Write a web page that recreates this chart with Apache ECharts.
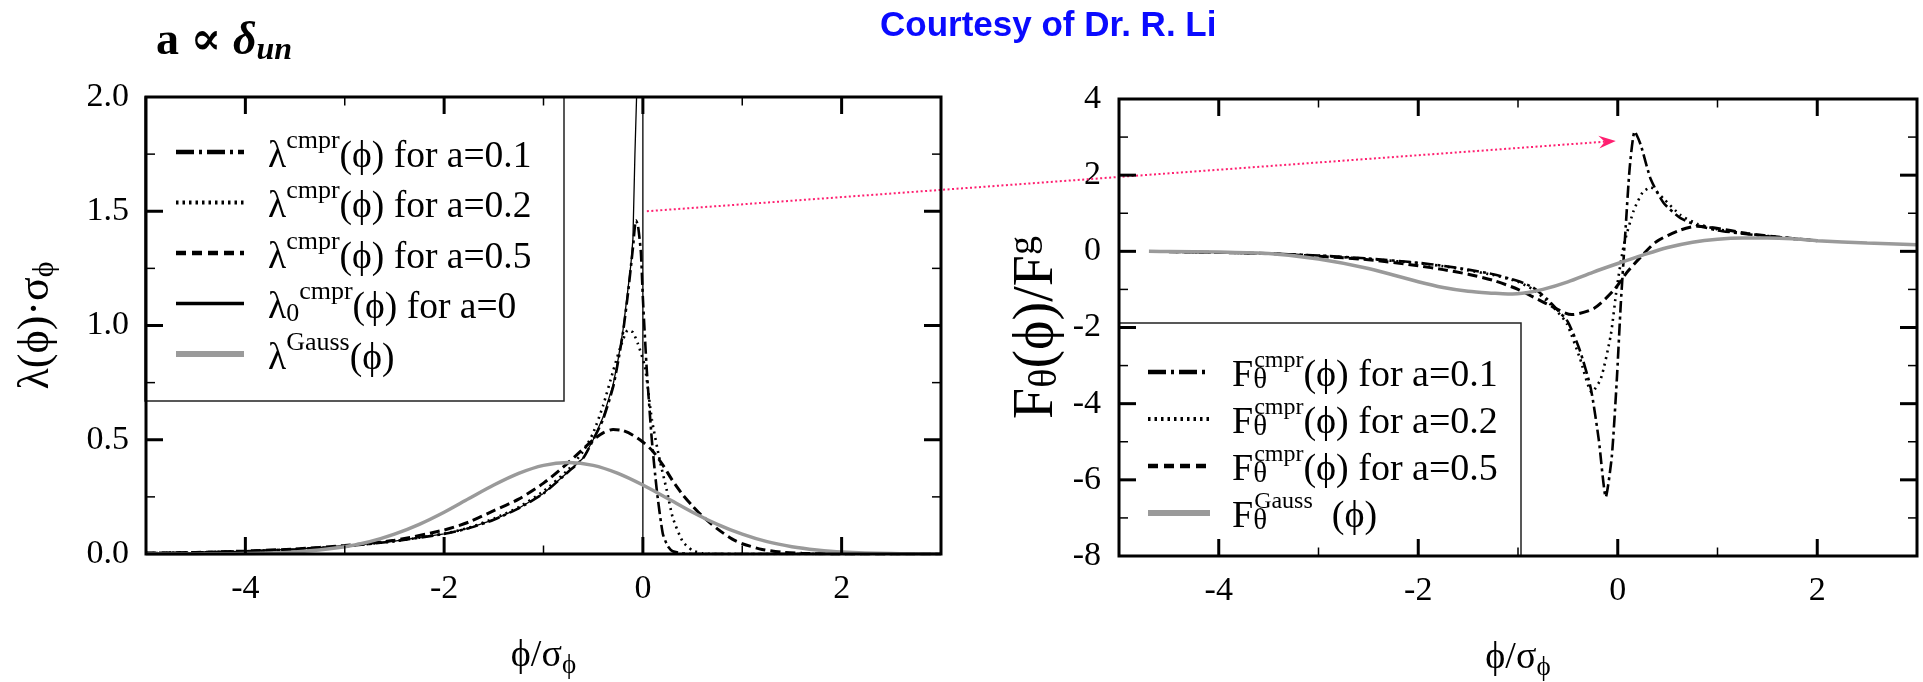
<!DOCTYPE html>
<html><head><meta charset="utf-8">
<script src="https://cdn.jsdelivr.net/npm/echarts@6/dist/echarts.min.js"></script>
<style>html,body{margin:0;padding:0;background:#fff}#c{width:1923px;height:682px}</style>
</head><body><div id="c"></div>
<script>
// ---------- data ----------
// left panel: lambda(phi)*sigma_phi
const xL01 = [-5,-4.5,-4,-3.5,-3,-2.5,-2,-1.75,-1.5,-1.25,-1,-0.75,-0.6,-0.5,-0.4,-0.3,-0.25,-0.2,-0.15,-0.1,-0.07,-0.05,-0.02,0,0.04,0.09,0.14,0.2,0.25,0.3,0.4,0.5,1,2,3];
const yL01 = [0.004,0.007,0.012,0.021,0.034,0.056,0.088,0.113,0.15,0.2,0.265,0.36,0.42,0.5,0.59,0.73,0.84,0.97,1.14,1.34,1.46,1.44,1.32,1.12,0.8,0.5,0.28,0.09,0.035,0.012,0.003,0,0,0,0];
const xL02 = [-5,-4.5,-4,-3.5,-3,-2.5,-2,-1.75,-1.5,-1.25,-1,-0.75,-0.6,-0.5,-0.4,-0.3,-0.23,-0.15,-0.1,-0.05,0.02,0.09,0.17,0.24,0.3,0.4,0.5,0.6,0.75,1,2,3];
const yL02 = [0.004,0.007,0.012,0.021,0.034,0.056,0.089,0.115,0.155,0.205,0.275,0.37,0.45,0.53,0.65,0.8,0.9,0.98,0.97,0.92,0.82,0.59,0.41,0.28,0.16,0.055,0.015,0.003,0,0,0,0];
const xL05 = [-5,-4.5,-4,-3.5,-3,-2.5,-2,-1.75,-1.5,-1.25,-1,-0.75,-0.5,-0.4,-0.3,-0.2,-0.1,0,0.1,0.2,0.3,0.4,0.5,0.6,0.75,0.9,1,1.2,1.4,1.6,2,3];
const yL05 = [0.004,0.007,0.013,0.022,0.037,0.06,0.105,0.14,0.19,0.24,0.31,0.4,0.5,0.53,0.545,0.54,0.52,0.49,0.45,0.39,0.32,0.26,0.21,0.165,0.11,0.065,0.045,0.02,0.008,0.003,0,0];
const xL0  = [-5,-4.5,-4,-3.5,-3,-2.5,-2,-1.75,-1.5,-1.25,-1,-0.75,-0.6,-0.5,-0.4,-0.3,-0.25,-0.2,-0.15,-0.12,-0.1,-0.08,-0.06,-0.04,-0.02,0,0,3];
const yL0  = [0.004,0.007,0.012,0.021,0.034,0.056,0.088,0.113,0.15,0.2,0.265,0.36,0.42,0.5,0.6,0.74,0.85,0.98,1.16,1.27,1.38,1.75,2.05,2.5,3.5,6,0,0];
const xLG  = [-5,-4.5,-4,-3.5,-3,-2.75,-2.5,-2.25,-2,-1.75,-1.5,-1.25,-1,-0.75,-0.5,-0.25,0,0.25,0.5,0.75,1,1.25,1.5,1.75,2,2.5,3];
const yLG  = [0,0.0004,0.002,0.009,0.032,0.054,0.087,0.13,0.183,0.243,0.302,0.353,0.388,0.4,0.388,0.353,0.302,0.243,0.183,0.13,0.087,0.054,0.032,0.018,0.009,0.002,0.0004];
// right panel: F_theta(phi)/F_g
const xR01 = [-4.5,-4,-3.5,-3,-2.5,-2,-1.75,-1.5,-1.25,-1,-0.85,-0.71,-0.6,-0.5,-0.38,-0.27,-0.19,-0.12,-0.06,-0.01,0.03,0.08,0.12,0.17,0.23,0.33,0.46,0.63,0.8,1.0,1.3,1.63,2.0];
const yR01 = [-0.01,-0.03,-0.06,-0.11,-0.19,-0.3,-0.38,-0.48,-0.6,-0.78,-0.95,-1.25,-1.55,-1.85,-2.6,-3.6,-4.95,-6.45,-5.4,-3.4,-1.4,0.65,2.2,3.15,2.8,1.9,1.27,0.87,0.68,0.55,0.45,0.36,0.28];
const xR02 = [-4.5,-4,-3.5,-3,-2.5,-2,-1.75,-1.5,-1.25,-1,-0.85,-0.71,-0.6,-0.51,-0.38,-0.26,-0.17,-0.07,-0.01,0.06,0.16,0.25,0.33,0.46,0.63,0.8,1.0,1.3,1.63,2.0];
const yR02 = [-0.01,-0.03,-0.06,-0.11,-0.2,-0.31,-0.39,-0.5,-0.62,-0.8,-1.0,-1.3,-1.6,-1.9,-2.8,-3.7,-3.35,-2.2,-0.97,0.15,1.07,1.55,1.68,1.38,0.95,0.72,0.58,0.46,0.37,0.28];
const xR05 = [-4.5,-4,-3.5,-3,-2.5,-2,-1.75,-1.5,-1.25,-1,-0.71,-0.46,-0.24,-0.04,0.09,0.23,0.39,0.63,0.8,0.96,1.3,1.63,2.0];
const yR05 = [-0.01,-0.03,-0.06,-0.13,-0.22,-0.38,-0.48,-0.6,-0.76,-1.0,-1.38,-1.66,-1.5,-1.02,-0.56,-0.15,0.26,0.56,0.66,0.62,0.47,0.37,0.28];
const xRG  = [-4.7,-4.5,-4,-3.5,-3,-2.5,-2,-1.75,-1.5,-1.25,-1.1,-0.9,-0.75,-0.5,-0.25,0,0.25,0.5,0.75,1,1.25,1.5,1.75,2,2.5,3];
const yRG  = [0,-0.005,-0.02,-0.06,-0.2,-0.45,-0.8,-0.95,-1.05,-1.1,-1.12,-1.08,-1.0,-0.8,-0.55,-0.32,-0.1,0.1,0.24,0.32,0.35,0.35,0.33,0.28,0.22,0.17];
// ticks / ranges
const xRange = [-5, 3];
const xMajorTicks = [-4,-2,0,2];
const xMinorTicks = [-3,-1,1];
const yLeftRange = [0, 2];
const yLeftMajor = [0.5,1,1.5];
const yLeftMinor = [0.25,0.75,1.25,1.75];
const yRightRange = [-8, 4];
const yRightMajor = [-6,-4,-2,0,2];
const yRightMinor = [-7,-5,-3,-1,1,3];

// ---------- styles ----------
const FONT = '"Liberation Serif","DejaVu Serif",serif';
const BLACK = '#000';
const GRAY = '#9a9a9a';
const PINK = '#ff1f70';
const DASHDOT = [12,4,3,4];
const DOTTED = [2,4.5];
const DASHED = [10,5];

function pairs(xs, ys){ return xs.map((x,i)=>[x, ys[i]]); }

function xAxisFor(g){
  return { gridIndex:g, type:'value', min:xRange[0], max:xRange[1], splitNumber:4, position:'bottom',
    splitLine:{show:false}, axisPointer:{show:false},
    axisLine:{show:false, onZero:false}, axisTick:{show:false},
    axisLabel:{show:true, customValues:xMajorTicks, formatter:v => (v % 2 === 0 ? String(v) : ''), fontFamily:FONT, fontSize:34, color:BLACK, margin:18} };
}
function yAxisFor(g, range, interval, fmt){
  return { gridIndex:g, type:'value', min:range[0], max:range[1], interval:interval, position:'left',
    splitLine:{show:false}, axisLine:{show:false, onZero:false}, axisTick:{show:false},
    axisLabel:{show:true, formatter:fmt, fontFamily:FONT, fontSize:34, color:BLACK, margin:g===0?17:18} };
}

const legTextL = {
  L01:'{sp| }{m|λ}{s|cmpr}{m|(ϕ) for a=0.1}',
  L02:'{sp| }{m|λ}{s|cmpr}{m|(ϕ) for a=0.2}',
  L05:'{sp| }{m|λ}{s|cmpr}{m|(ϕ) for a=0.5}',
  L0:'{sp| }{m|λ}{b|0}{s|cmpr}{m|(ϕ) for a=0}',
  LG:'{sp| }{m|λ}{s|Gauss}{m|(ϕ)}'
};
const legTextR = {
  R01:'{sp| }{m|F}{b|θ}{s|cmpr}{m|(ϕ) for a=0.1}',
  R02:'{sp| }{m|F}{b|θ}{s|cmpr}{m|(ϕ) for a=0.2}',
  R05:'{sp| }{m|F}{b|θ}{s|cmpr}{m|(ϕ) for a=0.5}',
  RG:'{sp| }{m|F}{b|θ}{s|Gauss}{m|  (ϕ)}'
};
const richL = {
  sp:{width:19, lineHeight:48, fontSize:12},
  m:{fontFamily:FONT, fontSize:37.5, lineHeight:45, verticalAlign:'bottom', color:BLACK},
  s:{fontFamily:FONT, fontSize:26, lineHeight:13, verticalAlign:'top', color:BLACK},
  b:{fontFamily:FONT, fontSize:26, lineHeight:18, verticalAlign:'bottom', color:BLACK}
};
const richR = {
  sp:{width:17, lineHeight:46, fontSize:12},
  m:{fontFamily:FONT, fontSize:38, lineHeight:37, verticalAlign:'bottom', color:BLACK},
  s:{fontFamily:FONT, fontSize:24, lineHeight:8, verticalAlign:'top', color:BLACK},
  b:{fontFamily:FONT, fontSize:29, lineHeight:18, verticalAlign:'bottom', width:1, color:BLACK}
};
// legend key samples are drawn heavier than the curves
const keyDashDot = {width:4.5, type:[18,5,3,5]};
const keyDotted  = {width:4, type:[2.5,4]};
const keyDashed  = {width:4.5, type:[10,6]};
const keySolid   = {width:3.5, type:'solid'};
const keyGray    = {width:6, type:'solid'};

function line(name, xs, ys, xi, yi, color, width, dash, smooth, z){
  return { name:name, type:'line', xAxisIndex:xi, yAxisIndex:yi, data:pairs(xs, ys), symbol:'none', showSymbol:false,
    smooth:smooth, clip:true, z:z||2, silent:true,
    lineStyle:{color:color, width:width, type:dash || 'solid', cap:'butt'}, itemStyle:{color:color} };
}

const chart = echarts.init(document.getElementById('c'), null, {renderer:'canvas', width:1923, height:682});
const option = {
  animation:false,
  backgroundColor:'#fff',
  title:[
    { text:'{a|a }{p|∝ }{d|δ}{u|un}', left:156, top:17, padding:0,
      textStyle:{ rich:{
        a:{fontFamily:FONT, fontSize:46, fontWeight:'bold', lineHeight:50, color:BLACK},
        p:{fontFamily:FONT, fontSize:46, lineHeight:50, color:BLACK},
        d:{fontFamily:FONT, fontSize:46, fontWeight:'bold', fontStyle:'italic', lineHeight:50, color:BLACK},
        u:{fontFamily:FONT, fontSize:32, fontWeight:'bold', fontStyle:'italic', lineHeight:12, verticalAlign:'bottom', color:BLACK}
      }}},
    { text:'Courtesy of Dr. R. Li', left:880, top:6, padding:0,
      textStyle:{fontFamily:'"Liberation Sans",Arial,sans-serif', fontWeight:'bold', fontSize:35, lineHeight:40, color:'#0a0aff'} }
  ],
  grid:[
    {left:146, top:97, width:795, height:457, containLabel:false},
    {left:1119, top:99, width:798, height:457, containLabel:false}
  ],
  xAxis:[xAxisFor(0), xAxisFor(1)],
  yAxis:[yAxisFor(0, yLeftRange, 0.5, v => v.toFixed(1)), yAxisFor(1, yRightRange, 2, v => String(v))],
  legend:[
    { data:[{name:'L01', lineStyle:keyDashDot},{name:'L02', lineStyle:keyDotted},{name:'L05', lineStyle:keyDashed},{name:'L0', lineStyle:keySolid},{name:'LG', lineStyle:keyGray}],
      orient:'vertical', left:173, top:128, padding:0, itemGap:2.5,
      itemWidth:68, itemHeight:14, selectedMode:false, formatter:n => legTextL[n],
      itemStyle:{opacity:0, color:'rgba(0,0,0,0)', borderWidth:0}, textStyle:{rich:richL} },
    { data:[{name:'R01', lineStyle:keyDashDot},{name:'R02', lineStyle:keyDotted},{name:'R05', lineStyle:keyDashed},{name:'RG', lineStyle:keyGray}],
      orient:'vertical', left:1145, top:349, padding:0, itemGap:1,
      itemWidth:62, itemHeight:14, selectedMode:false, formatter:n => legTextR[n],
      itemStyle:{opacity:0, color:'rgba(0,0,0,0)', borderWidth:0}, textStyle:{rich:richR} }
  ],
  series:[
    line('L01', xL01, yL01, 0, 0, BLACK, 2.6, DASHDOT, 0.2, 3),
    line('L02', xL02, yL02, 0, 0, BLACK, 2.6, DOTTED, 0.2, 3),
    line('L05', xL05, yL05, 0, 0, BLACK, 3, DASHED, 0.25, 3),
    line('L0', xL0, yL0, 0, 0, BLACK, 1.3, 'solid', false, 3),
    line('LG', xLG, yLG, 0, 0, GRAY, 3.5, 'solid', 0.3, 4),
    line('R01', xR01, yR01, 1, 1, BLACK, 2.6, DASHDOT, 0.2, 3),
    line('R02', xR02, yR02, 1, 1, BLACK, 2.6, DOTTED, 0.2, 3),
    line('R05', xR05, yR05, 1, 1, BLACK, 3, DASHED, 0.25, 3),
    line('RG', xRG, yRG, 1, 1, GRAY, 3.5, 'solid', 0.3, 4)
  ],
  graphic:[
    { type:'rect', id:'boxL', z:1, shape:{x:145, y:97, width:419, height:304}, style:{fill:'none', stroke:'#222', lineWidth:1.5}, silent:true },
    { type:'rect', id:'boxR', z:1, shape:{x:1119, y:323, width:402, height:233}, style:{fill:'none', stroke:'#222', lineWidth:1.5}, silent:true }
  ]
};
chart.setOption(option);

const extra = [];
// frame and inward ticks on all four sides of each panel, placed through the axes' scales
const panels = [
  {xi:0, yi:0, yr:yLeftRange, yMaj:yLeftMajor, yMin:yLeftMinor},
  {xi:1, yi:1, yr:yRightRange, yMaj:yRightMajor, yMin:yRightMinor}
];
panels.forEach((P, k) => {
  const px = v => chart.convertToPixel({xAxisIndex:P.xi, yAxisIndex:P.yi}, v);
  const tl = px([xRange[0], P.yr[1]]), br = px([xRange[1], P.yr[0]]);
  extra.push({ type:'rect', id:'frame'+k, z:100, silent:true, shape:{x:tl[0], y:tl[1], width:br[0]-tl[0], height:br[1]-tl[1]},
    style:{fill:'none', stroke:BLACK, lineWidth:3} });
  let n = 0;
  const tick = (x1, y1, x2, y2, major) => extra.push({ type:'line', id:'t'+k+'_'+(n++), z:100, silent:true,
    shape:{x1:x1, y1:y1, x2:x2, y2:y2}, style:{stroke:BLACK, lineWidth:major ? 3 : 1.5, lineCap:'butt'} });
  const xt = (list, major) => list.forEach(v => {
    const b = px([v, P.yr[0]]), t = px([v, P.yr[1]]), L = major ? 17 : 8.5;
    tick(b[0], b[1], b[0], b[1]-L, major); tick(t[0], t[1], t[0], t[1]+L, major);
  });
  const yt = (list, major) => list.forEach(v => {
    const l = px([xRange[0], v]), r = px([xRange[1], v]), L = major ? 17 : 9;
    tick(l[0], l[1], l[0]+L, l[1], major); tick(r[0], r[1], r[0]-L, r[1], major);
  });
  xt(xMajorTicks, true); xt(xMinorTicks, false); yt(P.yMaj, true); yt(P.yMin, false);
});

// axis titles, anchored through the axes
const nameRichX = { a:{fontFamily:FONT, fontSize:38, lineHeight:46, fill:BLACK, color:BLACK}, b:{fontFamily:FONT, fontSize:27, lineHeight:30, verticalAlign:'bottom', fill:BLACK, color:BLACK} };
const nL = chart.convertToPixel({xAxisIndex:0, yAxisIndex:0}, [-1, 0]);
const nR = chart.convertToPixel({xAxisIndex:1, yAxisIndex:1}, [-1, -8]);
const yl = chart.convertToPixel({xAxisIndex:0, yAxisIndex:0}, [-5, 1.0]);
const yr = chart.convertToPixel({xAxisIndex:1, yAxisIndex:1}, [-5, -2.0]);
extra.push(
  { type:'text', id:'xnameL', z:10, silent:true, x:nL[0], y:nL[1]+102,
    style:{text:'{a|ϕ/σ}{b|ϕ}', rich:nameRichX, align:'center', verticalAlign:'middle'} },
  { type:'text', id:'xnameR', z:10, silent:true, x:nR[0], y:nR[1]+102,
    style:{text:'{a|ϕ/σ}{b|ϕ}', rich:nameRichX, align:'center', verticalAlign:'middle'} },
  { type:'text', id:'ynameL', z:10, silent:true, x:yl[0]-110, y:yl[1], rotation:Math.PI/2,
    style:{text:'{a|λ(ϕ)·σ}{b|ϕ}', align:'center', verticalAlign:'middle',
      rich:{ a:{fontFamily:FONT, fontSize:44, lineHeight:48, fill:BLACK, color:BLACK}, b:{fontFamily:FONT, fontSize:30, lineHeight:10, verticalAlign:'bottom', fill:BLACK, color:BLACK} }} },
  { type:'text', id:'ynameR', z:10, silent:true, x:yr[0]-84, y:yr[1], rotation:Math.PI/2,
    style:{text:'{a|F}{b|θ}{a|(ϕ)/F}{s|g}', align:'center', verticalAlign:'middle',
      rich:{ a:{fontFamily:FONT, fontSize:56, lineHeight:60, verticalAlign:'bottom', fill:BLACK, color:BLACK},
             b:{fontFamily:FONT, fontSize:40, lineHeight:16, verticalAlign:'bottom', fill:BLACK, color:BLACK},
             s:{fontFamily:FONT, fontSize:38, lineHeight:12, verticalAlign:'top', fill:BLACK, color:BLACK} }} }
);

// pink dotted arrow from the left panel peak to the right panel peak (positions through the axes)
const arrowFrom = [0.04, 1.5];
const arrowTo = [-0.02, 2.9];
const p1 = chart.convertToPixel({xAxisIndex:0, yAxisIndex:0}, arrowFrom);
const p2 = chart.convertToPixel({xAxisIndex:1, yAxisIndex:1}, arrowTo);
const ang = Math.atan2(p2[1]-p1[1], p2[0]-p1[0]);
const c = Math.cos(ang), s = Math.sin(ang);
function rot(px, py){ return [p2[0] + px*c - py*s, p2[1] + px*s + py*c]; }
extra.push(
  { type:'line', id:'arrowLine', z:10, silent:true, shape:{x1:p1[0], y1:p1[1], x2:rot(-11,0)[0], y2:rot(-11,0)[1]},
    style:{stroke:PINK, lineWidth:2, lineDash:[2,2.5]} },
  { type:'polygon', id:'arrowHead', z:10, silent:true, shape:{points:[rot(0,0), rot(-17,-6.5), rot(-11,0), rot(-17,6.5)]},
    style:{fill:PINK} }
);
chart.setOption({ graphic: extra });
</script></body></html>
